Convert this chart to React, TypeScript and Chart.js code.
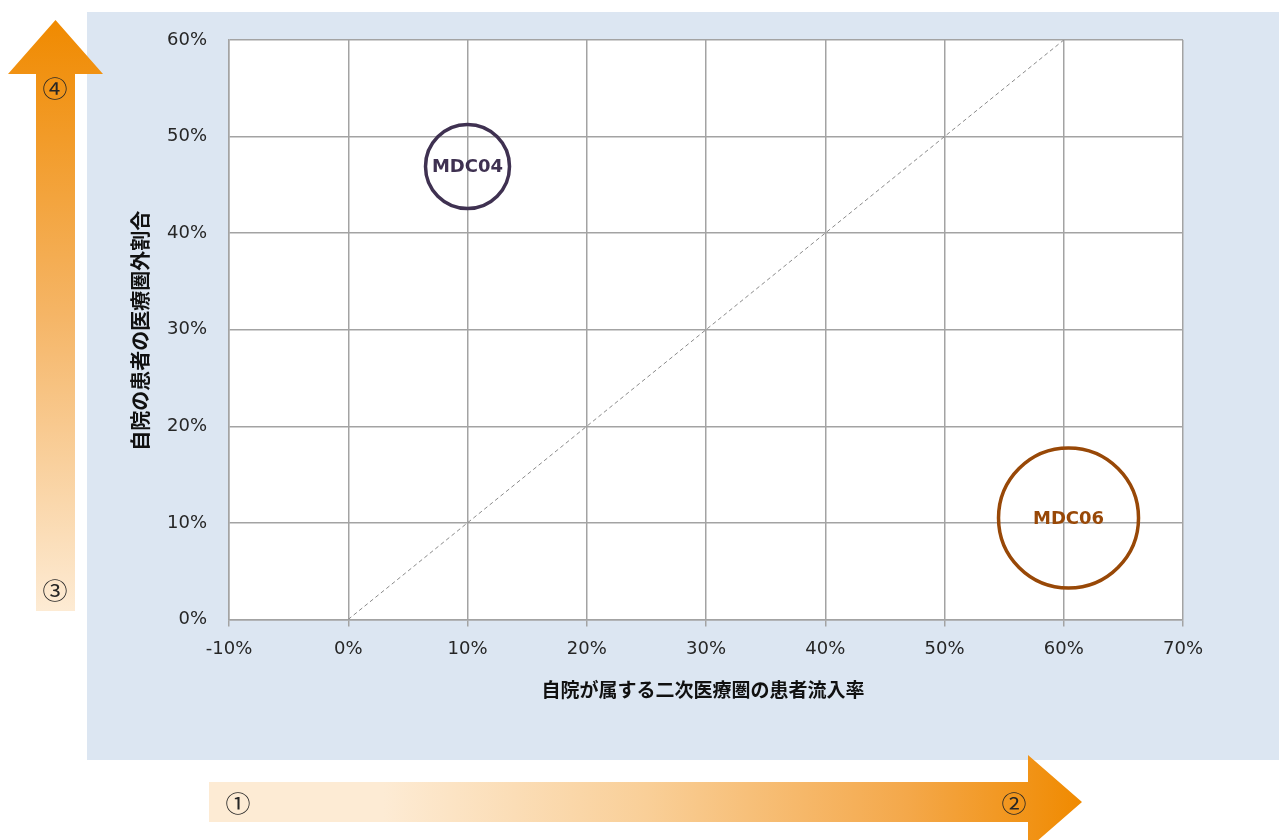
import React, { useEffect, useRef } from 'react';
import { Chart, registerables } from 'chart.js';

Chart.register(...registerables);

// ---- data ----
const categories = ['MDC04', 'MDC06'];
const inflowRate = [10.0, 60.4]; // x (%)
const outsideRate = [46.9, 10.5]; // y (%)
const bubbleRadius = [42, 70];
const bubbleColors = ['#3f3151', '#984807'];
const diagonalX = [0, 60];
const diagonalY = [0, 60];
const xTickRange = [-10, 70];
const yTickRange = [0, 60];
const tickStep = 10;
const xTitle = '自院が属する二次医療圏の患者流入率';
const yTitle = '自院の患者の医療圏外割合';
const arrowMarks = ['①', '②', '③', '④'];

const gridColor = '#a3a3a3';
const textColor = '#262626';

function drawMark(ctx: CanvasRenderingContext2D, text: string, x: number, y: number) {
  ctx.save();
  ctx.translate(x, y);
  ctx.scale(1, 0.9);
  ctx.fillText(text, 0, 0);
  ctx.restore();
}

const decorPlugin = {
  id: 'decor',
  beforeDraw(chart: any) {
    const ctx = chart.ctx as CanvasRenderingContext2D;
    const ca = chart.chartArea;
    ctx.save();
    ctx.fillStyle = '#dce6f2';
    ctx.fillRect(87, 12, 1192, 748);
    ctx.fillStyle = '#ffffff';
    ctx.fillRect(ca.left, ca.top, ca.right - ca.left, ca.bottom - ca.top);

    let g = ctx.createLinearGradient(0, 20, 0, 611);
    g.addColorStop(0, '#f08a00');
    g.addColorStop(0.5, '#f5b566');
    g.addColorStop(1, '#fdebd4');
    ctx.fillStyle = g;
    ctx.beginPath();
    ctx.moveTo(55.5, 20);
    ctx.lineTo(103, 74);
    ctx.lineTo(75, 74);
    ctx.lineTo(75, 611);
    ctx.lineTo(36, 611);
    ctx.lineTo(36, 74);
    ctx.lineTo(8, 74);
    ctx.closePath();
    ctx.fill();

    g = ctx.createLinearGradient(209, 0, 1082, 0);
    g.addColorStop(0, '#fdebd4');
    g.addColorStop(0.2, '#fdebd4');
    g.addColorStop(0.5, '#f9cf98');
    g.addColorStop(0.8, '#f4a84a');
    g.addColorStop(1, '#f08a00');
    ctx.fillStyle = g;
    ctx.beginPath();
    ctx.moveTo(209, 782);
    ctx.lineTo(1028, 782);
    ctx.lineTo(1028, 755);
    ctx.lineTo(1082, 802);
    ctx.lineTo(1028, 849);
    ctx.lineTo(1028, 822);
    ctx.lineTo(209, 822);
    ctx.closePath();
    ctx.fill();

    ctx.fillStyle = textColor;
    ctx.font = '25px "Noto Sans CJK JP"';
    ctx.textAlign = 'center';
    ctx.textBaseline = 'middle';
    drawMark(ctx, arrowMarks[0], 238, 803);
    drawMark(ctx, arrowMarks[1], 1014, 803);
    drawMark(ctx, arrowMarks[2], 55, 590);
    drawMark(ctx, arrowMarks[3], 55, 88);
    ctx.restore();
  },
  afterDatasetsDraw(chart: any) {
    const ctx = chart.ctx as CanvasRenderingContext2D;
    ctx.save();
    ctx.font = 'bold 18px "DejaVu Sans"';
    ctx.textAlign = 'center';
    ctx.textBaseline = 'middle';
    chart.data.datasets.forEach((ds: any, i: number) => {
      if (ds.type !== 'bubble') return;
      const meta = chart.getDatasetMeta(i);
      const el = meta.data[0];
      ctx.fillStyle = ds.borderColor;
      ctx.fillText(ds.label, el.x, el.y + 1);
    });
    ctx.restore();
  },
  afterDraw(chart: any) {
    const ctx = chart.ctx as CanvasRenderingContext2D;
    const ca = chart.chartArea;
    ctx.save();
    ctx.fillStyle = '#111';
    ctx.textAlign = 'center';
    ctx.textBaseline = 'middle';
    ctx.font = 'bold 19px "Noto Sans CJK JP"';
    ctx.fillText(xTitle, (ca.left + ca.right) / 2 - 3, 690);
    ctx.translate(140, (ca.top + ca.bottom) / 2 + 1);
    ctx.rotate(-Math.PI / 2);
    ctx.font = 'bold 20px "Noto Sans CJK JP"';
    ctx.fillText(yTitle, 0, 0);
    ctx.restore();
  },
};

export default function App() {
  const ref = useRef<HTMLCanvasElement>(null);

  useEffect(() => {
    const datasets: any[] = [
      {
        type: 'line',
        label: 'diagonal',
        data: diagonalX.map((x, i) => ({ x, y: diagonalY[i] })),
        borderColor: '#8a8a8a',
        borderWidth: 1,
        borderDash: [4, 3],
        pointRadius: 0,
        fill: false,
      },
      ...categories.map((c, i) => ({
        type: 'bubble',
        label: c,
        data: [{ x: inflowRate[i], y: outsideRate[i], r: bubbleRadius[i] }],
        backgroundColor: 'rgba(0,0,0,0)',
        borderColor: bubbleColors[i],
        borderWidth: 3.5,
        hoverRadius: 0,
      })),
    ];

    const chart = new Chart(ref.current!, {
      type: 'bubble',
      data: { datasets },
      options: {
        responsive: false,
        animation: false,
        devicePixelRatio: 1,
        layout: { autoPadding: false, padding: { top: 40, right: 96, bottom: 168, left: 0 } },
        plugins: {
          legend: { display: false },
          tooltip: { enabled: false },
        },
        scales: {
          x: {
            type: 'linear',
            min: xTickRange[0],
            max: xTickRange[1],
            ticks: {
              stepSize: tickStep,
              callback: (v: any) => `${v}%`,
              font: { family: 'DejaVu Sans', size: 18 },
              color: textColor,
              padding: 12,
            },
            grid: { color: gridColor, lineWidth: 1.5, tickLength: 7, drawTicks: true },
            border: { color: gridColor, width: 1.5 },
          },
          y: {
            type: 'linear',
            min: yTickRange[0],
            max: yTickRange[1],
            ticks: {
              stepSize: tickStep,
              callback: (v: any) => `${v}%`,
              font: { family: 'DejaVu Sans', size: 18 },
              color: textColor,
              padding: 22,
            },
            grid: { color: gridColor, lineWidth: 1.5, drawTicks: false },
            border: { color: gridColor, width: 1.5 },
            afterFit: (s: any) => {
              s.width = 229;
            },
          },
        },
      } as any,
      plugins: [decorPlugin],
    });
    return () => chart.destroy();
  }, []);

  return (
    <div style={{ position: 'absolute', left: 0, top: 0, width: 1279, height: 840 }}>
      <canvas ref={ref} width={1279} height={840} style={{ display: 'block' }} />
    </div>
  );
}
